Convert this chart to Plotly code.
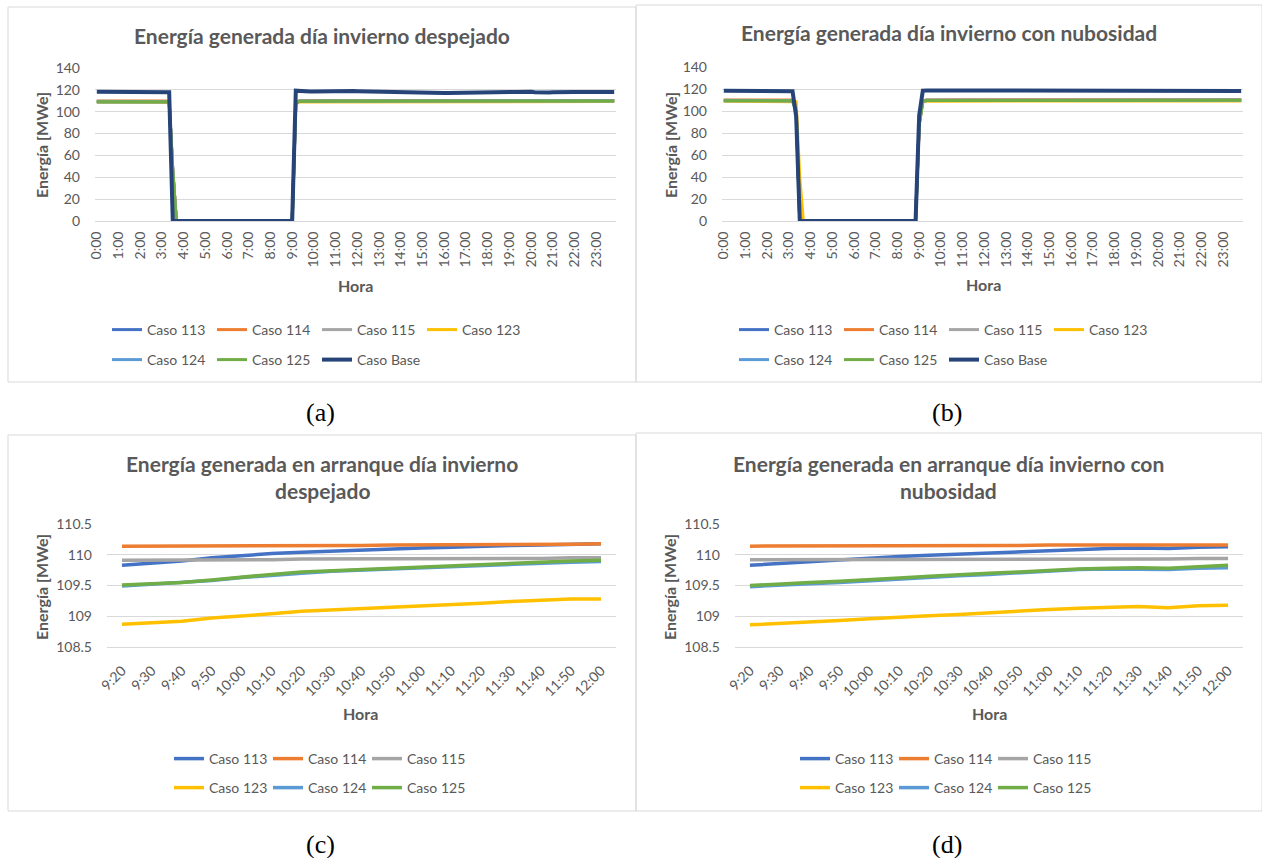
import plotly.graph_objects as go

W, H = 1262, 858


def px(x):
    return x / W


def py(y):
    return 1 - y / H


FONT = "Lato"
GRAY = "#595959"
GRID = "#d9d9d9"

SERIES = ["Caso 113", "Caso 114", "Caso 115", "Caso 123", "Caso 124", "Caso 125", "Caso Base"]
COLORS = {
    "Caso 113": "#4472C4",
    "Caso 114": "#ED7D31",
    "Caso 115": "#A5A5A5",
    "Caso 123": "#FFC000",
    "Caso 124": "#5B9BD5",
    "Caso 125": "#70AD47",
    "Caso Base": "#264478",
}

# ---------------- categories / ticks ----------------
TIMES_DAY = [f"{h}:{m:02d}" for h in range(24) for m in (0, 10, 20, 30, 40, 50)]
HOUR_TICKS = ["0:00", "1:00", "2:00", "3:00", "4:00", "5:00", "6:00", "7:00", "8:00", "9:00",
              "10:00", "11:00", "12:00", "13:00", "14:00", "15:00", "16:00", "17:00", "18:00",
              "19:00", "20:00", "21:00", "22:00", "23:00"]
TIMES_START = ["9:20", "9:30", "9:40", "9:50", "10:00", "10:10", "10:20", "10:30", "10:40",
               "10:50", "11:00", "11:10", "11:20", "11:30", "11:40", "11:50", "12:00"]
Y_TICKS_DAY = [0, 20, 40, 60, 80, 100, 120, 140]
Y_TICKS_START = [108.5, 109, 109.5, 110, 110.5]
Y_TEXT_START = ["108.5", "109", "109.5", "110", "110.5"]

# ---------------- (a) día invierno despejado, 10-min values ----------------
A_113 = [
    109.3, 109.3, 109.3, 109.3, 109.3, 109.3, 109.3, 109.3, 109.3, 109.3, 109.3, 109.3,
    109.3, 109.3, 109.3, 109.3, 109.3, 109.3, 109.2, 109.2, 109.1, 46.5, 0, 0,
    0, 0, 0, 0, 0, 0, 0, 0, 0, 0, 0, 0,
    0, 0, 0, 0, 0, 0, 0, 0, 0, 0, 0, 0,
    0, 0, 0, 0, 0, 0, 0, 108.0, 109.8, 109.9, 109.9, 110.0,
    110.0, 110.0, 110.0, 110.1, 110.1, 110.1, 110.1, 110.1, 110.1, 110.2, 110.2, 110.2,
    110.2, 110.2, 110.2, 110.2, 110.2, 110.2, 110.2, 110.2, 110.2, 110.2, 110.2, 110.2,
    110.2, 110.2, 110.1, 110.1, 110.1, 110.1, 110.0, 110.0, 110.1, 110.1, 110.1, 110.1,
    110.1, 110.1, 110.1, 110.1, 110.1, 110.1, 110.2, 110.2, 110.2, 110.2, 110.2, 110.2,
    110.2, 110.2, 110.2, 110.2, 110.2, 110.2, 110.2, 110.2, 110.2, 110.2, 110.2, 110.2,
    110.2, 110.1, 110.1, 110.1, 110.1, 110.1, 110.1, 110.1, 110.2, 110.2, 110.2, 110.2,
    110.2, 110.2, 110.2, 110.2, 110.2, 110.2, 110.2, 110.2, 110.2, 110.2, 110.2, 110.2]
A_114 = [
    109.8, 109.8, 109.8, 109.8, 109.8, 109.8, 109.8, 109.8, 109.8, 109.8, 109.8, 109.8,
    109.8, 109.8, 109.8, 109.8, 109.8, 109.8, 109.7, 109.7, 109.7, 46.8, 0, 0,
    0, 0, 0, 0, 0, 0, 0, 0, 0, 0, 0, 0,
    0, 0, 0, 0, 0, 0, 0, 0, 0, 0, 0, 0,
    0, 0, 0, 0, 0, 0, 0, 108.4, 110.1, 110.1, 110.1, 110.1,
    110.1, 110.2, 110.2, 110.2, 110.2, 110.2, 110.2, 110.2, 110.2, 110.2, 110.2, 110.2,
    110.2, 110.2, 110.2, 110.2, 110.2, 110.2, 110.2, 110.2, 110.2, 110.2, 110.2, 110.2,
    110.2, 110.2, 110.2, 110.1, 110.1, 110.1, 110.1, 110.1, 110.1, 110.2, 110.2, 110.2,
    110.2, 110.2, 110.2, 110.2, 110.2, 110.2, 110.2, 110.2, 110.2, 110.2, 110.2, 110.2,
    110.2, 110.2, 110.2, 110.2, 110.2, 110.2, 110.2, 110.2, 110.2, 110.2, 110.2, 110.2,
    110.2, 110.2, 110.2, 110.1, 110.1, 110.1, 110.1, 110.2, 110.2, 110.2, 110.2, 110.2,
    110.2, 110.2, 110.2, 110.2, 110.2, 110.2, 110.2, 110.2, 110.2, 110.2, 110.2, 110.2]
A_115 = [
    109.5, 109.5, 109.5, 109.5, 109.5, 109.5, 109.5, 109.5, 109.5, 109.5, 109.5, 109.5,
    109.5, 109.5, 109.5, 109.5, 109.5, 109.5, 109.4, 109.4, 109.4, 46.6, 0, 0,
    0, 0, 0, 0, 0, 0, 0, 0, 0, 0, 0, 0,
    0, 0, 0, 0, 0, 0, 0, 0, 0, 0, 0, 0,
    0, 0, 0, 0, 0, 0, 0, 108.1, 109.9, 109.9, 109.9, 109.9,
    109.9, 109.9, 109.9, 109.9, 109.9, 109.9, 109.9, 109.9, 109.9, 109.9, 109.9, 109.9,
    110.0, 110.0, 110.0, 110.0, 110.0, 110.0, 110.0, 110.0, 110.0, 110.0, 110.0, 110.0,
    110.0, 110.0, 109.9, 109.9, 109.9, 109.9, 109.9, 109.9, 109.9, 109.9, 109.9, 109.9,
    109.9, 109.9, 109.9, 109.9, 109.9, 109.9, 110.0, 110.0, 110.0, 110.0, 110.0, 110.0,
    110.0, 110.0, 110.0, 110.0, 110.0, 110.0, 110.0, 110.0, 110.0, 110.0, 110.0, 110.0,
    110.0, 109.9, 109.9, 109.9, 109.9, 109.9, 109.9, 109.9, 110.0, 110.0, 110.0, 110.0,
    110.0, 110.0, 110.0, 110.0, 110.0, 110.0, 110.0, 110.0, 110.0, 110.0, 110.0, 110.0]
A_123 = [
    108.6, 108.6, 108.6, 108.6, 108.6, 108.6, 108.6, 108.6, 108.6, 108.6, 108.6, 108.6,
    108.6, 108.6, 108.6, 108.6, 108.6, 108.6, 108.5, 108.5, 108.5, 44.0, 0, 0,
    0, 0, 0, 0, 0, 0, 0, 0, 0, 0, 0, 0,
    0, 0, 0, 0, 0, 0, 0, 0, 0, 0, 0, 0,
    0, 0, 0, 0, 0, 0, 0, 107.0, 108.9, 108.9, 108.9, 109.0,
    109.0, 109.0, 109.1, 109.1, 109.1, 109.2, 109.2, 109.2, 109.2, 109.2, 109.3, 109.3,
    109.3, 109.3, 109.3, 109.3, 109.3, 109.3, 109.3, 109.3, 109.3, 109.3, 109.3, 109.3,
    109.3, 109.3, 109.2, 109.2, 109.2, 109.2, 109.2, 109.2, 109.2, 109.2, 109.2, 109.2,
    109.2, 109.2, 109.2, 109.3, 109.3, 109.3, 109.3, 109.3, 109.3, 109.3, 109.4, 109.4,
    109.4, 109.4, 109.4, 109.4, 109.4, 109.4, 109.4, 109.3, 109.3, 109.3, 109.3, 109.3,
    109.3, 109.3, 109.2, 109.2, 109.2, 109.2, 109.2, 109.3, 109.3, 109.3, 109.3, 109.3,
    109.3, 109.3, 109.3, 109.3, 109.3, 109.3, 109.3, 109.3, 109.3, 109.3, 109.3, 109.3]
A_124 = [
    109.0, 109.0, 109.0, 109.0, 109.0, 109.0, 109.0, 109.0, 109.0, 109.0, 109.0, 109.0,
    109.0, 109.0, 109.0, 109.0, 109.0, 109.0, 108.9, 108.9, 108.9, 45.5, 0, 0,
    0, 0, 0, 0, 0, 0, 0, 0, 0, 0, 0, 0,
    0, 0, 0, 0, 0, 0, 0, 0, 0, 0, 0, 0,
    0, 0, 0, 0, 0, 0, 0, 107.5, 109.5, 109.5, 109.5, 109.6,
    109.6, 109.7, 109.7, 109.7, 109.8, 109.8, 109.8, 109.8, 109.8, 109.9, 109.9, 109.9,
    109.9, 109.9, 109.9, 109.9, 109.9, 109.9, 109.9, 109.9, 109.9, 109.9, 109.9, 109.9,
    109.9, 109.9, 109.8, 109.8, 109.8, 109.8, 109.8, 109.8, 109.8, 109.8, 109.8, 109.8,
    109.8, 109.8, 109.8, 109.8, 109.8, 109.9, 109.9, 109.9, 109.9, 109.9, 109.9, 109.9,
    109.9, 109.9, 109.9, 109.9, 109.9, 109.9, 109.9, 109.9, 109.9, 109.9, 109.9, 109.9,
    109.9, 109.8, 109.8, 109.8, 109.8, 109.8, 109.8, 109.9, 109.9, 109.9, 109.9, 109.9,
    109.9, 109.9, 109.9, 109.9, 109.9, 109.9, 109.9, 109.9, 109.9, 109.9, 109.9, 109.9]
A_125 = [
    109.2, 109.2, 109.2, 109.2, 109.2, 109.2, 109.2, 109.2, 109.2, 109.2, 109.2, 109.2,
    109.2, 109.2, 109.2, 109.2, 109.2, 109.2, 109.1, 109.1, 109.1, 45.8, 0, 0,
    0, 0, 0, 0, 0, 0, 0, 0, 0, 0, 0, 0,
    0, 0, 0, 0, 0, 0, 0, 0, 0, 0, 0, 0,
    0, 0, 0, 0, 0, 0, 0, 107.7, 109.5, 109.5, 109.6, 109.6,
    109.6, 109.7, 109.7, 109.7, 109.8, 109.8, 109.8, 109.8, 109.9, 109.9, 109.9, 109.9,
    109.9, 109.9, 109.9, 109.9, 109.9, 109.9, 109.9, 109.9, 109.9, 109.9, 109.9, 109.9,
    109.9, 109.9, 109.8, 109.8, 109.8, 109.8, 109.8, 109.8, 109.8, 109.8, 109.8, 109.8,
    109.8, 109.8, 109.8, 109.8, 109.9, 109.9, 109.9, 109.9, 109.9, 109.9, 109.9, 109.9,
    109.9, 109.9, 109.9, 109.9, 109.9, 109.9, 109.9, 109.9, 109.9, 109.9, 109.9, 109.9,
    109.9, 109.8, 109.8, 109.8, 109.8, 109.8, 109.8, 109.9, 109.9, 109.9, 109.9, 109.9,
    109.9, 109.9, 109.9, 109.9, 109.9, 109.9, 109.9, 109.9, 109.9, 109.9, 109.9, 109.9]
A_BASE = [
    118.3, 118.3, 118.3, 118.3, 118.3, 118.3, 118.3, 118.3, 118.3, 118.3, 118.3, 118.3,
    118.3, 118.3, 118.3, 118.3, 118.2, 118.2, 117.9, 117.9, 117.8, 0, 0, 0,
    0, 0, 0, 0, 0, 0, 0, 0, 0, 0, 0, 0,
    0, 0, 0, 0, 0, 0, 0, 0, 0, 0, 0, 0,
    0, 0, 0, 0, 0, 0, 0, 119.2, 118.8, 118.6, 118.7, 118.5,
    118.6, 118.7, 118.8, 118.6, 118.5, 118.6, 118.8, 118.9, 118.7, 118.6, 118.7, 118.9,
    118.8, 118.7, 118.6, 118.5, 118.3, 118.2, 118.2, 118.0, 117.9, 118.1, 118.2, 118.0,
    117.8, 117.7, 117.8, 117.6, 117.4, 117.2, 117.0, 116.9, 117.1, 117.3, 117.2, 117.1,
    117.1, 117.2, 117.3, 117.2, 117.1, 117.3, 117.5, 117.7, 117.8, 117.7, 117.9, 118.0,
    118.1, 118.3, 118.1, 118.0, 118.1, 118.2, 118.3, 118.1, 118.0, 118.2, 118.4, 118.5,
    118.2, 117.8, 117.6, 117.7, 117.8, 117.6, 117.8, 118.0, 118.1, 118.1, 118.0, 118.1,
    118.1, 118.1, 118.0, 118.1, 118.1, 118.2, 118.1, 118.1, 118.0, 118.1, 118.1, 118.1]

# ---------------- (b) día invierno con nubosidad, 10-min values ----------------
B_113 = [
    109.6, 109.6, 109.6, 109.6, 109.6, 109.6, 109.5, 109.5, 109.5, 109.5, 109.5, 109.5,
    109.5, 109.5, 109.4, 109.4, 109.4, 109.4, 109.4, 109.4, 100.0, 0, 0, 0,
    0, 0, 0, 0, 0, 0, 0, 0, 0, 0, 0, 0,
    0, 0, 0, 0, 0, 0, 0, 0, 0, 0, 0, 0,
    0, 0, 0, 0, 0, 0, 88.0, 108.9, 109.8, 109.9, 109.9, 109.9,
    109.9, 110.0, 110.0, 110.0, 110.0, 110.1, 110.1, 110.1, 110.1, 110.1, 110.1, 110.1,
    110.1, 110.1, 110.1, 110.1, 110.1, 110.1, 110.1, 110.1, 110.1, 110.1, 110.1, 110.1,
    110.1, 110.1, 110.1, 110.1, 110.1, 110.1, 110.1, 110.1, 110.1, 110.1, 110.1, 110.1,
    110.1, 110.1, 110.1, 110.1, 110.1, 110.1, 110.1, 110.1, 110.1, 110.1, 110.1, 110.1,
    110.1, 110.1, 110.1, 110.1, 110.0, 110.0, 110.0, 110.0, 110.0, 110.0, 110.0, 110.0,
    110.0, 110.0, 110.0, 110.0, 110.0, 110.0, 110.0, 110.0, 110.0, 110.0, 110.0, 110.0,
    110.0, 110.0, 110.1, 110.1, 110.1, 110.1, 110.1, 110.1, 110.1, 110.1, 110.1, 110.1]
B_114 = [
    110.0, 110.0, 110.0, 110.0, 110.0, 110.0, 110.0, 110.0, 110.0, 109.9, 109.9, 109.9,
    109.9, 109.9, 109.9, 109.9, 109.9, 109.9, 109.9, 109.9, 101.0, 0, 0, 0,
    0, 0, 0, 0, 0, 0, 0, 0, 0, 0, 0, 0,
    0, 0, 0, 0, 0, 0, 0, 0, 0, 0, 0, 0,
    0, 0, 0, 0, 0, 0, 89.0, 109.3, 110.1, 110.1, 110.1, 110.1,
    110.1, 110.1, 110.2, 110.2, 110.2, 110.2, 110.2, 110.2, 110.2, 110.2, 110.2, 110.2,
    110.2, 110.2, 110.2, 110.2, 110.2, 110.2, 110.2, 110.2, 110.2, 110.2, 110.2, 110.2,
    110.2, 110.2, 110.2, 110.2, 110.2, 110.2, 110.2, 110.2, 110.2, 110.2, 110.2, 110.2,
    110.2, 110.2, 110.2, 110.2, 110.2, 110.2, 110.2, 110.2, 110.2, 110.2, 110.2, 110.2,
    110.2, 110.2, 110.2, 110.2, 110.1, 110.1, 110.1, 110.1, 110.1, 110.1, 110.1, 110.1,
    110.1, 110.1, 110.1, 110.1, 110.1, 110.1, 110.1, 110.1, 110.1, 110.1, 110.1, 110.1,
    110.1, 110.1, 110.2, 110.2, 110.2, 110.2, 110.2, 110.2, 110.2, 110.2, 110.2, 110.2]
B_115 = [
    109.7, 109.7, 109.7, 109.7, 109.7, 109.7, 109.7, 109.7, 109.6, 109.6, 109.6, 109.6,
    109.6, 109.6, 109.6, 109.6, 109.6, 109.6, 109.6, 109.6, 100.5, 0, 0, 0,
    0, 0, 0, 0, 0, 0, 0, 0, 0, 0, 0, 0,
    0, 0, 0, 0, 0, 0, 0, 0, 0, 0, 0, 0,
    0, 0, 0, 0, 0, 0, 88.5, 109.1, 109.9, 109.9, 109.9, 109.9,
    109.9, 109.9, 109.9, 109.9, 109.9, 109.9, 109.9, 109.9, 109.9, 109.9, 109.9, 109.9,
    109.9, 109.9, 109.9, 109.9, 109.9, 109.9, 109.9, 109.9, 109.9, 109.9, 109.9, 109.9,
    109.9, 109.9, 109.9, 109.9, 109.9, 109.9, 109.9, 109.9, 109.9, 109.9, 109.9, 109.9,
    109.9, 109.9, 109.9, 109.9, 109.9, 109.9, 109.9, 109.9, 109.9, 109.9, 109.9, 109.9,
    109.9, 109.9, 109.9, 109.9, 109.8, 109.8, 109.8, 109.8, 109.8, 109.8, 109.8, 109.8,
    109.8, 109.8, 109.8, 109.8, 109.8, 109.8, 109.8, 109.8, 109.8, 109.8, 109.8, 109.8,
    109.8, 109.8, 109.9, 109.9, 109.9, 109.9, 109.9, 109.9, 109.9, 109.9, 109.9, 109.9]
B_123 = [
    108.8, 108.8, 108.8, 108.8, 108.8, 108.8, 108.8, 108.8, 108.7, 108.7, 108.7, 108.7,
    108.7, 108.7, 108.7, 108.7, 108.7, 108.7, 108.7, 108.7, 108.5, 40.0, 0, 0,
    0, 0, 0, 0, 0, 0, 0, 0, 0, 0, 0, 0,
    0, 0, 0, 0, 0, 0, 0, 0, 0, 0, 0, 0,
    0, 0, 0, 0, 0, 0, 86.0, 108.2, 108.9, 108.9, 108.9, 108.9,
    109.0, 109.0, 109.0, 109.0, 109.1, 109.1, 109.1, 109.1, 109.1, 109.2, 109.1, 109.2,
    109.2, 109.2, 109.2, 109.2, 109.2, 109.2, 109.2, 109.2, 109.2, 109.2, 109.2, 109.2,
    109.2, 109.2, 109.2, 109.2, 109.2, 109.2, 109.2, 109.2, 109.2, 109.2, 109.2, 109.2,
    109.2, 109.2, 109.2, 109.2, 109.2, 109.2, 109.2, 109.2, 109.2, 109.2, 109.2, 109.2,
    109.2, 109.2, 109.2, 109.2, 109.1, 109.1, 109.1, 109.1, 109.1, 109.1, 109.1, 109.1,
    109.1, 109.1, 109.1, 109.1, 109.1, 109.1, 109.1, 109.1, 109.1, 109.1, 109.1, 109.1,
    109.1, 109.1, 109.2, 109.2, 109.2, 109.2, 109.2, 109.2, 109.2, 109.2, 109.2, 109.2]
B_124 = [
    109.3, 109.3, 109.3, 109.3, 109.3, 109.3, 109.3, 109.3, 109.2, 109.2, 109.2, 109.2,
    109.2, 109.2, 109.2, 109.2, 109.2, 109.2, 109.2, 109.2, 100.0, 0, 0, 0,
    0, 0, 0, 0, 0, 0, 0, 0, 0, 0, 0, 0,
    0, 0, 0, 0, 0, 0, 0, 0, 0, 0, 0, 0,
    0, 0, 0, 0, 0, 0, 87.5, 108.7, 109.5, 109.5, 109.5, 109.6,
    109.6, 109.6, 109.6, 109.7, 109.7, 109.7, 109.7, 109.8, 109.8, 109.8, 109.8, 109.8,
    109.8, 109.8, 109.8, 109.8, 109.8, 109.8, 109.8, 109.8, 109.8, 109.8, 109.8, 109.8,
    109.8, 109.8, 109.8, 109.8, 109.8, 109.8, 109.8, 109.8, 109.8, 109.8, 109.8, 109.8,
    109.8, 109.8, 109.8, 109.8, 109.8, 109.8, 109.8, 109.8, 109.8, 109.8, 109.8, 109.8,
    109.8, 109.8, 109.8, 109.8, 109.7, 109.7, 109.7, 109.7, 109.7, 109.7, 109.7, 109.7,
    109.7, 109.7, 109.7, 109.7, 109.7, 109.7, 109.7, 109.7, 109.7, 109.7, 109.7, 109.7,
    109.7, 109.7, 109.8, 109.8, 109.8, 109.8, 109.8, 109.8, 109.8, 109.8, 109.8, 109.8]
B_125 = [
    109.4, 109.4, 109.4, 109.4, 109.4, 109.4, 109.4, 109.4, 109.3, 109.3, 109.3, 109.3,
    109.3, 109.3, 109.3, 109.3, 109.3, 109.3, 109.3, 109.3, 100.2, 0, 0, 0,
    0, 0, 0, 0, 0, 0, 0, 0, 0, 0, 0, 0,
    0, 0, 0, 0, 0, 0, 0, 0, 0, 0, 0, 0,
    0, 0, 0, 0, 0, 0, 87.8, 108.8, 109.5, 109.5, 109.6, 109.6,
    109.6, 109.6, 109.7, 109.7, 109.7, 109.7, 109.8, 109.8, 109.8, 109.8, 109.8, 109.8,
    109.8, 109.8, 109.8, 109.8, 109.8, 109.8, 109.8, 109.8, 109.8, 109.8, 109.8, 109.8,
    109.8, 109.8, 109.8, 109.8, 109.8, 109.8, 109.8, 109.8, 109.8, 109.8, 109.8, 109.8,
    109.8, 109.8, 109.8, 109.8, 109.8, 109.8, 109.8, 109.8, 109.8, 109.8, 109.8, 109.8,
    109.8, 109.8, 109.8, 109.8, 109.7, 109.7, 109.7, 109.7, 109.7, 109.7, 109.7, 109.7,
    109.7, 109.7, 109.7, 109.7, 109.7, 109.7, 109.7, 109.7, 109.7, 109.7, 109.7, 109.7,
    109.7, 109.7, 109.8, 109.8, 109.8, 109.8, 109.8, 109.8, 109.8, 109.8, 109.8, 109.8]
B_BASE = [
    118.4, 118.4, 118.4, 118.3, 118.3, 118.3, 118.3, 118.2, 118.2, 118.2, 118.1, 118.1,
    118.1, 118.1, 118.1, 118.1, 118.1, 118.1, 118.1, 118.0, 95.0, 0, 0, 0,
    0, 0, 0, 0, 0, 0, 0, 0, 0, 0, 0, 0,
    0, 0, 0, 0, 0, 0, 0, 0, 0, 0, 0, 0,
    0, 0, 0, 0, 0, 0, 96.0, 118.5, 118.6, 118.5, 118.6, 118.6,
    118.6, 118.5, 118.6, 118.7, 118.7, 118.6, 118.6, 118.7, 118.7, 118.7, 118.7, 118.7,
    118.7, 118.7, 118.7, 118.7, 118.7, 118.7, 118.7, 118.6, 118.6, 118.6, 118.6, 118.6,
    118.6, 118.6, 118.5, 118.5, 118.4, 118.4, 118.3, 118.4, 118.5, 118.5, 118.6, 118.7,
    118.7, 118.7, 118.7, 118.7, 118.7, 118.7, 118.7, 118.7, 118.6, 118.5, 118.4, 118.3,
    118.2, 118.0, 118.1, 118.2, 118.1, 118.0, 117.9, 117.9, 117.9, 117.9, 117.9, 117.8,
    117.8, 117.8, 117.8, 117.8, 117.8, 117.8, 117.8, 117.8, 117.8, 117.8, 117.9, 117.9,
    118.0, 118.1, 118.2, 118.2, 118.2, 118.2, 118.2, 118.2, 118.2, 118.2, 118.2, 118.2]

# ---------------- (c) arranque despejado, 9:20-12:00 ----------------
C_113 = [109.83, 109.86, 109.90, 109.95, 109.99, 110.02, 110.04, 110.06, 110.08, 110.10, 110.11, 110.12, 110.14, 110.15, 110.16, 110.17, 110.18]
C_114 = [110.14, 110.14, 110.14, 110.14, 110.14, 110.15, 110.15, 110.15, 110.15, 110.16, 110.16, 110.16, 110.16, 110.16, 110.17, 110.17, 110.18]
C_115 = [109.91, 109.91, 109.91, 109.92, 109.92, 109.92, 109.93, 109.93, 109.93, 109.93, 109.94, 109.94, 109.94, 109.94, 109.94, 109.95, 109.95]
C_123 = [108.87, 108.89, 108.92, 108.97, 109.00, 109.04, 109.08, 109.10, 109.13, 109.15, 109.17, 109.19, 109.21, 109.24, 109.26, 109.28, 109.28]
C_124 = [109.49, 109.52, 109.54, 109.58, 109.63, 109.67, 109.70, 109.73, 109.75, 109.77, 109.79, 109.81, 109.83, 109.85, 109.87, 109.88, 109.89]
C_125 = [109.51, 109.53, 109.55, 109.59, 109.64, 109.68, 109.72, 109.74, 109.77, 109.79, 109.81, 109.83, 109.85, 109.87, 109.89, 109.90, 109.91]

# ---------------- (d) arranque con nubosidad, 9:20-12:00 ----------------
D_113 = [109.83, 109.86, 109.88, 109.91, 109.94, 109.97, 109.99, 110.01, 110.03, 110.05, 110.07, 110.09, 110.10, 110.11, 110.10, 110.12, 110.13]
D_114 = [110.14, 110.14, 110.14, 110.14, 110.14, 110.14, 110.15, 110.15, 110.15, 110.15, 110.16, 110.16, 110.16, 110.16, 110.16, 110.16, 110.16]
D_115 = [109.92, 109.92, 109.92, 109.92, 109.92, 109.92, 109.92, 109.93, 109.93, 109.93, 109.93, 109.93, 109.93, 109.93, 109.93, 109.94, 109.94]
D_123 = [108.86, 108.88, 108.91, 108.93, 108.96, 108.99, 109.01, 109.03, 109.06, 109.08, 109.11, 109.13, 109.14, 109.16, 109.14, 109.17, 109.18]
D_124 = [109.48, 109.51, 109.53, 109.55, 109.58, 109.61, 109.63, 109.66, 109.68, 109.71, 109.74, 109.76, 109.77, 109.77, 109.76, 109.78, 109.79]
D_125 = [109.50, 109.53, 109.55, 109.57, 109.59, 109.62, 109.65, 109.68, 109.70, 109.72, 109.75, 109.77, 109.78, 109.79, 109.78, 109.81, 109.83]

PANEL_A = [A_113, A_114, A_115, A_123, A_124, A_125, A_BASE]
PANEL_B = [B_113, B_114, B_115, B_123, B_124, B_125, B_BASE]
PANEL_C = [C_113, C_114, C_115, C_123, C_124, C_125]
PANEL_D = [D_113, D_114, D_115, D_123, D_124, D_125]

fig = go.Figure()


def add_panel(xa, ya, cats, values, legend_rows, widths):
    for i, ys in enumerate(values):
        name = SERIES[i]
        fig.add_trace(go.Scatter(
            x=cats, y=ys, mode="lines", name=name,
            line=dict(color=COLORS[name], width=widths[name]),
            xaxis=xa, yaxis=ya, legend=legend_rows[i], hoverinfo="skip"))


top_w = {s: 3 for s in SERIES}
top_w["Caso Base"] = 4
bot_w = {s: 3.5 for s in SERIES}

add_panel("x", "y", TIMES_DAY, PANEL_A,
          ["legend", "legend", "legend", "legend", "legend2", "legend2", "legend2"], top_w)
add_panel("x2", "y2", TIMES_DAY, PANEL_B,
          ["legend3", "legend3", "legend3", "legend3", "legend4", "legend4", "legend4"], top_w)
add_panel("x3", "y3", TIMES_START, PANEL_C,
          ["legend5", "legend5", "legend5", "legend6", "legend6", "legend6"], bot_w)
add_panel("x4", "y4", TIMES_START, PANEL_D,
          ["legend7", "legend7", "legend7", "legend8", "legend8", "legend8"], bot_w)

tickfont = dict(family=FONT, size=14, color=GRAY)


def xaxis_day(x0, x1, anchor):
    return dict(domain=[px(x0), px(x1)], anchor=anchor, type="category",
                categoryorder="array", categoryarray=TIMES_DAY,
                range=[-0.5, len(TIMES_DAY) - 0.5], tickmode="array", tickvals=HOUR_TICKS,
                tickangle=-90, tickfont=tickfont, showgrid=False, zeroline=False,
                showline=True, linecolor=GRID, linewidth=1, ticks="", ticklabelstandoff=4,
                automargin=False)


def xaxis_start(x0, x1, anchor):
    return dict(domain=[px(x0), px(x1)], anchor=anchor, type="category",
                categoryorder="array", categoryarray=TIMES_START,
                range=[-0.5, len(TIMES_START) - 0.5], tickmode="array", tickvals=TIMES_START,
                tickangle=-45, tickfont=tickfont, showgrid=False, zeroline=False,
                showline=True, linecolor=GRID, linewidth=1, ticks="", ticklabelstandoff=9,
                automargin=False)


def yaxis_day(y0, y1, anchor):
    return dict(domain=[py(y1), py(y0)], anchor=anchor, range=[0, 140], tickmode="array",
                tickvals=Y_TICKS_DAY, tickfont=tickfont, showgrid=True, gridcolor=GRID,
                gridwidth=1, zeroline=False, showline=False, ticks="", ticklabelstandoff=14,
                automargin=False)


def yaxis_start(y0, y1, anchor):
    return dict(domain=[py(y1), py(y0)], anchor=anchor, range=[108.5, 110.5], tickmode="array",
                tickvals=Y_TICKS_START, ticktext=Y_TEXT_START, tickfont=tickfont,
                showgrid=True, gridcolor=GRID, gridwidth=1, zeroline=False, showline=False,
                ticks="", ticklabelstandoff=14, automargin=False)


def legend_row(x, y, ew):
    return dict(orientation="h", x=px(x), xanchor="left", y=py(y), yanchor="middle",
                bgcolor="rgba(0,0,0,0)", font=dict(family=FONT, size=14, color=GRAY),
                entrywidth=ew, entrywidthmode="pixels", itemclick=False,
                itemdoubleclick=False)


annotations = []


def text(x, y, s, size, bold=False, angle=0, family=FONT, color=GRAY):
    annotations.append(dict(
        x=px(x), y=py(y), xref="paper", yref="paper", text=f"<b>{s}</b>" if bold else s,
        showarrow=False, xanchor="center", yanchor="middle", textangle=angle,
        font=dict(family=family, size=size, color=color)))


# titles
text(322, 35, "Energía generada día invierno despejado", 21, bold=True)
text(949, 33, "Energía generada día invierno con nubosidad", 21, bold=True)
text(322, 463, "Energía generada en arranque día invierno", 21, bold=True)
text(322, 490, "despejado", 21, bold=True)
text(948, 463, "Energía generada en arranque día invierno con", 21, bold=True)
text(948, 490, "nubosidad", 21, bold=True)
# axis titles
for (x, y) in [(41, 145), (670, 145), (41, 587), (669, 587)]:
    text(x, y, "Energía [MWe]", 16, bold=True, angle=-90)
for (x, y) in [(355, 285), (983, 284), (361, 713), (989, 713)]:
    text(x, y, "Hora", 16, bold=True)
# captions
for (x, y, s) in [(320, 413, "(a)"), (947, 413, "(b)"), (320, 844, "(c)"), (947, 844, "(d)")]:
    text(x, y, s, 26, family="Liberation Serif", color="#000000")

shapes = []
for (x0, y0, x1, y1) in [(8, 7, 636, 382), (636, 5, 1262, 382), (8, 435, 636, 811), (636, 433, 1262, 811)]:
    shapes.append(dict(type="rect", xref="paper", yref="paper", x0=px(x0), y0=py(y1),
                       x1=px(x1), y1=py(y0), line=dict(color=GRID, width=1),
                       fillcolor="rgba(0,0,0,0)", layer="below"))

fig.update_layout(
    width=W, height=H, margin=dict(l=0, r=0, t=0, b=0, autoexpand=False),
    paper_bgcolor="white", plot_bgcolor="white", showlegend=True,
    xaxis=xaxis_day(95, 616, "y"), yaxis=yaxis_day(68, 221, "x"),
    xaxis2=xaxis_day(722, 1243, "y2"), yaxis2=yaxis_day(67, 221, "x2"),
    xaxis3=xaxis_start(107, 616, "y3"), yaxis3=yaxis_start(524, 647, "x3"),
    xaxis4=xaxis_start(735, 1243, "y4"), yaxis4=yaxis_start(524, 647, "x4"),
    legend=legend_row(107, 330, 60), legend2=legend_row(107, 360, 60),
    legend3=legend_row(734, 330, 60), legend4=legend_row(734, 360, 60),
    legend5=legend_row(169, 759, 54), legend6=legend_row(169, 788, 54),
    legend7=legend_row(795, 759, 54), legend8=legend_row(795, 788, 54),
    annotations=annotations, shapes=shapes,
)

fig.write_html("out.html")
